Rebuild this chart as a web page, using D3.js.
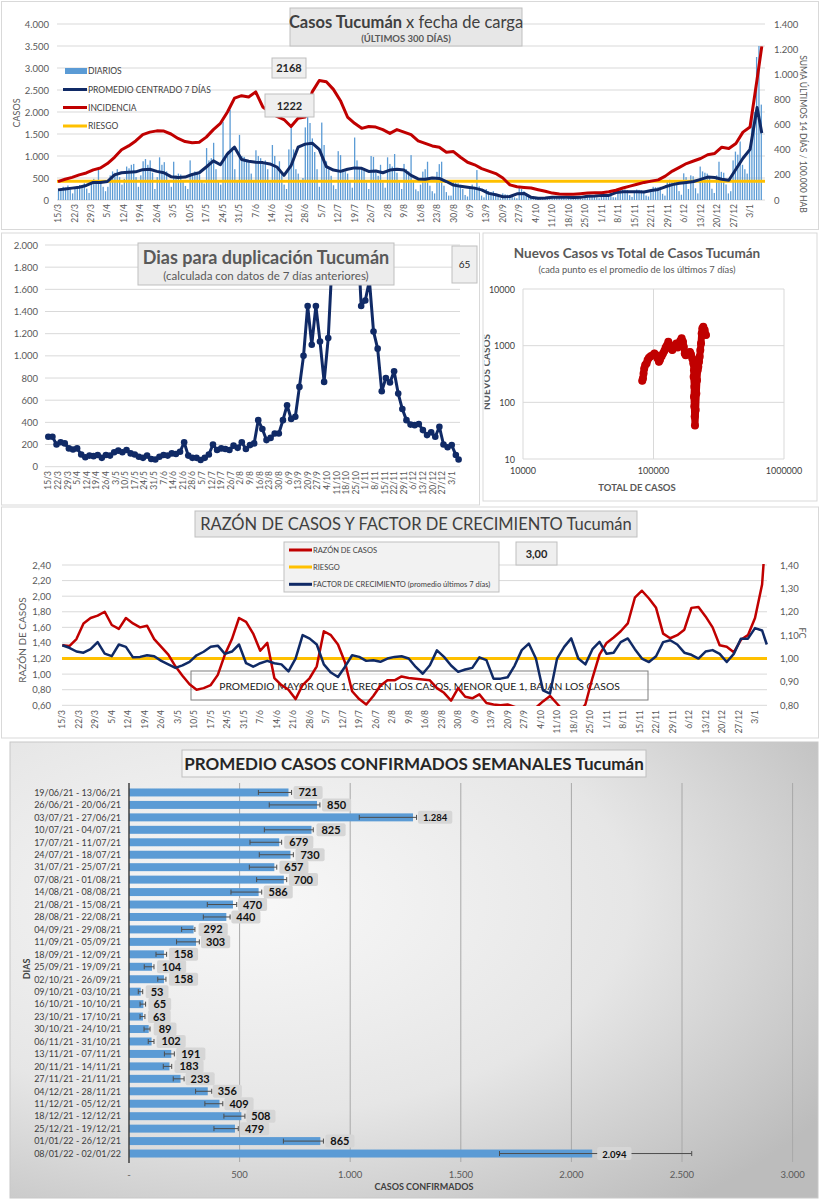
<!DOCTYPE html>
<html><head><meta charset="utf-8">
<script src="https://cdn.jsdelivr.net/npm/d3@7/dist/d3.min.js"></script>
<style>
body{margin:0;background:#fff;}
svg text{font-family:Lato,"Open Sans","Noto Sans",sans-serif;}
</style></head><body>
<svg id="chart" width="820" height="1200" xmlns="http://www.w3.org/2000/svg"></svg>
<script>
// ---------------- DATA ----------------
const weekLabels = ["15/3","22/3","29/3","5/4","12/4","19/4","26/4","3/5","10/5","17/5","24/5","31/5","7/6","14/6","21/6","28/6","5/7","12/7","19/7","26/7","2/8","9/8","16/8","23/8","30/8","6/9","13/9","20/9","27/9","4/10","11/10","18/10","25/10","1/11","8/11","15/11","22/11","29/11","6/12","13/12","20/12","27/12","3/1"];

// daily cases, 15/3/2021 .. 8/1/2022 (rows = weeks Mon..Sun)
const dailyCases = [
210,260,300,280,330,240,150,
250,320,340,300,380,260,160,
420,480,380,690,450,300,200,
300,560,650,620,700,520,350,
480,760,720,800,820,520,300,
560,880,930,800,900,620,250,
520,970,800,860,650,450,300,
870,560,600,580,420,320,250,
900,560,650,600,580,430,380,
1180,900,950,1300,700,450,350,
1780,1000,1100,2050,1200,700,450,
1480,1000,980,900,850,600,450,
1130,1000,950,820,900,700,400,
1250,1000,700,880,600,350,250,
1150,1700,1150,700,600,400,500,
1650,1900,1750,1400,1090,700,300,
1760,1250,880,700,550,335,250,
1110,1020,700,650,600,423,280,
1420,900,700,750,660,400,250,
1000,980,620,550,800,399,280,
970,820,760,1045,620,405,250,
820,700,650,1020,420,242,200,
350,645,700,870,325,200,150,
640,815,870,325,180,100,100,
450,400,380,350,250,114,80,
300,350,300,680,311,100,60,
250,200,180,200,146,70,40,
150,130,120,110,118,60,40,
300,250,200,150,116,50,20,
70,60,65,60,60,36,20,
60,90,80,85,75,45,25,
70,85,80,75,70,36,30,
90,110,120,105,110,58,40,
110,120,140,130,110,64,60,
220,250,230,240,227,110,70,
210,240,230,220,210,101,80,
230,300,290,290,300,141,100,
420,460,450,440,420,202,120,
606,520,250,560,540,267,150,
760,650,620,600,520,256,160,
560,870,640,620,353,150,200,
900,1100,1030,1330,800,700,600,
1200,1900,2000,3250,3500,2168];

// line series: one value every 3 days from 15/3 (day 0,3,...,297) + last day (8/1)
const promedio7 = [
230,250,270,290,330,400,400,420,570,620,
630,640,690,700,650,620,530,510,520,580,
620,750,890,800,1050,1200,920,880,860,850,
820,750,560,780,1200,1270,1290,1150,760,680,
650,700,730,720,650,660,620,680,700,680,
560,480,470,500,490,420,340,310,290,270,
230,150,120,75,80,140,150,60,40,45,
60,65,60,58,60,85,90,100,105,170,
190,190,185,180,215,240,300,350,380,400,
420,470,520,510,470,450,700,950,1150,2100,
1520];
const incidencia = [
146,165,180,200,215,240,255,290,340,400,
430,470,520,540,550,548,525,490,465,455,
460,500,560,610,700,810,830,820,860,740,
700,665,640,585,650,660,860,950,940,880,
790,660,610,570,585,580,560,530,560,540,
520,470,450,430,420,380,385,340,300,280,
250,230,210,175,120,105,100,95,82,70,
55,47,45,46,50,55,57,58,65,78,
95,110,125,140,150,160,190,230,260,290,
310,330,360,370,420,410,450,540,580,960,
1222];
const riesgoIncidencia = 150;

const diasDuplicacion = [
270,270,200,220,210,165,155,165,110,85,
100,95,105,80,105,100,130,145,130,150,
120,110,90,80,100,70,65,90,105,100,
120,115,135,220,100,80,80,60,80,110,
200,150,165,160,150,190,170,220,160,195,
210,420,340,240,260,300,300,420,555,430,
450,720,1000,1450,1100,1450,1130,765,1160,1900,
2400,3000,3500,3200,2800,2200,1450,1500,1680,1220,
1065,680,800,760,860,660,520,420,380,375,
385,330,285,310,270,360,200,175,195,105,
65];

const razonCasos = [
1.37,1.36,1.45,1.65,1.72,1.75,1.80,1.63,1.58,1.72,
1.65,1.60,1.62,1.45,1.35,1.25,1.10,0.98,0.87,0.80,
0.82,0.86,0.99,1.25,1.45,1.72,1.67,1.52,1.30,1.40,
0.95,0.86,0.80,0.68,0.86,0.95,1.10,1.55,1.50,1.38,
1.15,0.78,0.68,0.61,0.72,0.85,0.92,0.92,0.97,0.95,
0.94,0.93,0.92,0.82,0.76,0.66,0.82,0.71,0.69,0.74,
0.63,0.61,0.60,0.61,0.58,0.52,0.50,0.57,0.65,0.72,
0.62,0.52,0.45,0.50,0.61,0.95,1.25,1.40,1.47,1.55,
1.65,1.98,2.07,1.97,1.85,1.52,1.46,1.50,1.57,1.85,
1.86,1.74,1.60,1.37,1.35,1.28,1.44,1.50,1.72,2.15,
3.00];
const riesgoRazon = 1.20;
const factorCrecimiento = [
1.057,1.046,1.03,1.025,1.04,1.07,1.021,1.01,1.06,1.05,
1.005,1.007,1.014,1.01,0.99,0.975,0.96,0.971,0.986,1.014,
1.029,1.05,1.055,1.02,1.03,1.06,0.98,0.965,0.98,0.99,
0.98,0.975,0.945,1.0,1.10,1.085,1.06,0.975,0.94,0.921,
0.965,1.014,1.007,0.99,0.993,0.986,1.0,1.007,1.01,1.0,
0.964,0.935,0.971,1.035,1.007,0.97,0.943,0.953,0.96,1.005,
0.993,0.914,0.914,0.92,0.97,1.036,1.064,1.0,0.864,0.85,
1.0,1.05,1.086,1.0,0.975,1.04,1.071,1.02,1.025,1.07,
1.086,1.04,1.0,0.985,1.01,1.07,1.078,1.06,1.025,1.016,
1.0,1.03,1.036,1.02,0.985,1.02,1.085,1.085,1.13,1.12,
1.06];

// scatter: total cases vs new cases (7-day avg)
const scatterTotal = [82000,83000,83900,84900,86400,88500,90100,92300,95100,98600,
101700,105000,107500,110100,112000,115400,118200,121000,123900,126900,
129900,133000,136200,139400,142700,146100,149600,153200,156800,160500,
164300,168200,170600,173600,176600,179900,185600,190300,193600,198200,
201900,204300,203100,205500,204300,205500,206700,207900,210400,212900,
215400,218000,220500,223200,225800,228500,231200,233900,236700,240800,
246600,252400];
const scatterNuevos = [240,264,324,395,455,485,557,610,651,678,
730,678,596,520,557,651,730,805,930,1020,
1175,1020,895,836,930,1020,1097,930,1020,1224,
1346,1175,957,730,678,709,751,775,709,596,
485,370,282,188,125,84,56,39,73,143,
246,370,424,520,637,836,1097,1647,2010,2160,
1886,1540];

// weekly averages
const semanas = ["19/06/21 - 13/06/21","26/06/21 - 20/06/21","03/07/21 - 27/06/21","10/07/21 - 04/07/21","17/07/21 - 11/07/21","24/07/21 - 18/07/21","31/07/21 - 25/07/21","07/08/21 - 01/08/21","14/08/21 - 08/08/21","21/08/21 - 15/08/21","28/08/21 - 22/08/21","04/09/21 - 29/08/21","11/09/21 - 05/09/21","18/09/21 - 12/09/21","25/09/21 - 19/09/21","02/10/21 - 26/09/21","09/10/21 - 03/10/21","16/10/21 - 10/10/21","23/10/21 - 17/10/21","30/10/21 - 24/10/21","06/11/21 - 31/10/21","13/11/21 - 07/11/21","20/11/21 - 14/11/21","27/11/21 - 21/11/21","04/12/21 - 28/11/21","11/12/21 - 05/12/21","18/12/21 - 12/12/21","25/12/21 - 19/12/21","01/01/22 - 26/12/21","08/01/22 - 02/01/22"];
const promedioSemanal = [721,850,1284,825,679,730,657,700,586,470,440,292,303,158,104,158,53,65,63,89,102,191,183,233,356,409,508,479,865,2094];
const errorBajo = [585,634,1041,612,547,589,544,577,461,354,336,238,215,122,69,130,42,50,50,68,87,160,155,200,301,343,429,384,698,1675];
const errorAlto = [735,863,1300,833,690,743,668,713,600,487,457,298,318,170,113,167,62,75,72,95,113,205,193,249,374,424,524,494,879,2544];

// ---------------- DRAW ----------------
const NAVY="#102a66", RED="#c00000", YEL="#ffc000", BLUE="#5b9bd5", GRID="#d9d9d9", AX="#595959";
const loc=d3.formatLocale({decimal:",",thousands:".",grouping:[3],currency:["$",""]});
const fInt=loc.format(",.0f"), f2=loc.format(".2f");
const sampleDay=i=>Math.min(i*3,299);

const svg=d3.select("#chart");
const defs=svg.append("defs");
svg.append("rect").attr("width",820).attr("height",1200).attr("fill","#fff");

function T(g,x,y,s,o={}){
  const t=g.append("text").text(s)
    .attr("font-size",o.size||10).attr("fill",o.fill||AX).attr("text-anchor",o.anchor||"start");
  if(o.weight) t.attr("font-weight",o.weight);
  if(o.rot!==undefined) t.attr("transform",`translate(${x},${y}) rotate(${o.rot})`);
  else t.attr("x",x).attr("y",y);
  return t;
}
function R(g,x,y,w,h,fill,stroke,rx){
  return g.append("rect").attr("x",x).attr("y",y).attr("width",w).attr("height",h)
    .attr("fill",fill).attr("stroke",stroke||"none").attr("rx",rx||0);
}
function clip(id,x,y,w,h){
  defs.append("clipPath").attr("id",id).append("rect").attr("x",x).attr("y",y).attr("width",w).attr("height",h);
  return `url(#${id})`;
}
function hline(g,x1,x2,y,stroke,w){
  return g.append("line").attr("x1",x1).attr("x2",x2).attr("y1",y).attr("y2",y).attr("stroke",stroke).attr("stroke-width",w||1);
}
function xLabels(g,scale,y,size){
  weekLabels.forEach((l,i)=>T(g,scale(i*7)+size*0.36,y,l,{size,anchor:"end",rot:-90}));
}

// ===== Panel 1: Casos Tucumán =====
const p1=svg.append("g");
R(p1,1.5,1.5,817,228,"#fff","#d9d9d9");
const xT=d3.scaleLinear().domain([0,299]).range([58,761.8]);
const xTB=d3.scaleBand().domain(d3.range(dailyCases.length)).range([56.8,763]).padding(0.45);
const yT=d3.scaleLinear().domain([0,4000]).range([200,24]);
const yTR=d3.scaleLinear().domain([0,1400]).range([200,24]);
d3.range(0,4001,500).forEach(v=>{ hline(p1,57,765,yT(v),GRID); T(p1,49,yT(v)+3.5,fInt(v),{size:9.5,anchor:"end"}); });
d3.range(0,1401,200).forEach(v=>T(p1,774,yTR(v)+3.5,fInt(v),{size:9.5}));
p1.append("g").selectAll("rect").data(dailyCases).join("rect")
  .attr("x",(d,i)=>xTB(i)).attr("width",xTB.bandwidth())
  .attr("y",d=>yT(d)).attr("height",d=>yT(0)-yT(d)).attr("fill",BLUE);
hline(p1,57,765,yTR(riesgoIncidencia),YEL,3);
const lineT=d3.line().x((d,i)=>xT(sampleDay(i)));
p1.append("path").attr("d",lineT.y(d=>yT(d))(promedio7)).attr("fill","none").attr("stroke",NAVY).attr("stroke-width",3).attr("stroke-linejoin","round");
p1.append("path").attr("d",lineT.y(d=>yTR(d))(incidencia)).attr("fill","none").attr("stroke",RED).attr("stroke-width",3).attr("stroke-linejoin","round");
xLabels(p1,xT,204,8.5);
T(p1,20,113,"CASOS",{size:9,anchor:"middle",rot:-90});
T(p1,800,134,"SUMA  ÚLTIMOS 14 DÍAS / 100.000 HAB",{size:8.6,anchor:"middle",rot:90});
// legend
R(p1,65,68,22,6,BLUE);
T(p1,88,74,"DIARIOS",{size:8.5,fill:"#404040"});
[["PROMEDIO CENTRADO 7 DÍAS",NAVY,89.5],["INCIDENCIA",RED,107.5],["RIESGO",YEL,126]].forEach(([s,c,y])=>{
  hline(p1,63,87,y,c,3); T(p1,88,y+3,s,{size:8.5,fill:"#404040"});
});
// title box
R(p1,290,8,232,38,"#e7e7e7","#bfbfbf");
const tt=p1.append("text").attr("x",406).attr("y",28).attr("text-anchor","middle").attr("font-size",16.5).attr("fill","#404040");
tt.append("tspan").attr("font-weight","bold").text("Casos  Tucumán ");
tt.append("tspan").text(" x fecha de carga");
T(p1,406,42,"(ÚLTIMOS 300 DÍAS)",{size:9.5,anchor:"middle",weight:"bold",fill:"#595959"});
R(p1,272,58,34,20,"#efefef","#bfbfbf");
T(p1,289,72,String(dailyCases[dailyCases.length-1]),{size:11,anchor:"middle",weight:"bold",fill:"#262626"});
R(p1,265,94,49,23,"#efefef","#bfbfbf");
T(p1,289.5,109.5,String(incidencia[incidencia.length-1]),{size:11,anchor:"middle",weight:"bold",fill:"#262626"});

// ===== Panel 2: Dias para duplicación =====
const p2=svg.append("g");
R(p2,1.5,233,478,272,"#fff","#d9d9d9");
const xD=d3.scaleLinear().domain([0,299]).range([48.3,458.6]);
const yD=d3.scaleLinear().domain([0,2000]).range([466.7,245]);
d3.range(0,2001,200).forEach(v=>{ hline(p2,45,460,yD(v),GRID); T(p2,38,yD(v)+3.5,fInt(v),{size:9.5,anchor:"end"}); });
const gD=p2.append("g").attr("clip-path",clip("cD",40,244.5,430,230));
gD.append("path").attr("d",d3.line().x((d,i)=>xD(sampleDay(i))).y(d=>yD(d))(diasDuplicacion))
  .attr("fill","none").attr("stroke",NAVY).attr("stroke-width",3).attr("stroke-linejoin","round");
gD.selectAll("circle").data(diasDuplicacion).join("circle")
  .attr("cx",(d,i)=>xD(sampleDay(i))).attr("cy",d=>yD(d)).attr("r",3.3).attr("fill",NAVY);
xLabels(p2,xD,471,8.5);
R(p2,138,243,256,42,"#ececec","#bfbfbf");
T(p2,266,264,"Dias para duplicación Tucumán",{size:18,anchor:"middle",weight:"bold",fill:"#595959"});
T(p2,266,279.5,"(calculada con datos de 7 días anteriores)",{size:11.5,anchor:"middle",fill:"#595959"});
R(p2,452,246,25,37,"#efefef","#bfbfbf");
T(p2,464.5,268,String(diasDuplicacion[diasDuplicacion.length-1]),{size:10,anchor:"middle",fill:"#262626"});

// ===== Panel 3: scatter =====
const p3=svg.append("g");
R(p3,483,233,334,268,"#fff","#d9d9d9");
const xS=d3.scaleLog().domain([1e4,1e6]).range([523,784]);
const yS=d3.scaleLog().domain([10,1e4]).range([459,289]);
[10,100,1000,10000].forEach(v=>{ hline(p3,523,784,yS(v),GRID); T(p3,515,yS(v)+3.5,String(v),{size:9,anchor:"end",fill:"#404040"}); });
[1e4,1e5,1e6].forEach(v=>{ p3.append("line").attr("x1",xS(v)).attr("x2",xS(v)).attr("y1",289).attr("y2",459).attr("stroke",GRID); T(p3,xS(v),474,String(v),{size:9,anchor:"middle",fill:"#404040"}); });
const pts=scatterTotal.map((t,i)=>[xS(t),yS(scatterNuevos[i])]);
p3.append("path").attr("d",d3.line()(pts)).attr("fill","none").attr("stroke",RED).attr("stroke-width",7).attr("stroke-linejoin","round").attr("stroke-linecap","round");
p3.selectAll("circle").data(pts).join("circle").attr("cx",d=>d[0]).attr("cy",d=>d[1]).attr("r",4).attr("fill",RED);
T(p3,637,258,"Nuevos Casos vs Total de Casos Tucumán",{size:13.5,anchor:"middle",weight:"bold",fill:"#595959"});
T(p3,637,273,"(cada punto es el promedio de los últimos 7 días)",{size:9.3,anchor:"middle",fill:"#595959"});
T(p3,637,491,"TOTAL DE CASOS",{size:9.5,anchor:"middle",weight:"bold",fill:"#595959"});
const gY=p3.append("g").attr("clip-path",clip("cS",484.5,234,300,260));
T(gY,490,372,"NUEVOS CASOS",{size:10,anchor:"middle",weight:"bold",fill:"#595959",rot:-90});

// ===== Panel 4: Razón =====
const p4=svg.append("g");
R(p4,1.5,507,817,231,"#fff","#d9d9d9");
const xR=d3.scaleLinear().domain([0,299]).range([62.3,766.8]);
const yRL=d3.scaleLinear().domain([0.6,2.4]).range([705.3,565]);
const yRR=d3.scaleLinear().domain([0.8,1.4]).range([705.3,565]);
d3.range(0,10).map(i=>0.6+i*0.2).forEach(v=>{ hline(p4,62,767,yRL(v),GRID); T(p4,51,yRL(v)+3.5,f2(v),{size:9.5,anchor:"end"}); });
d3.range(0,7).map(i=>0.8+i*0.1).forEach(v=>T(p4,780,yRR(v)+3.5,f2(v),{size:9.5}));
R(p4,191,671,457,29,"none","#7f7f7f");
T(p4,419.5,690,"PROMEDIO MAYOR QUE 1, CRECEN LOS CASOS, MENOR QUE 1, BAJAN LOS CASOS",{size:10.3,anchor:"middle",fill:"#1a1a1a"});
hline(p4,62,767,yRL(riesgoRazon),YEL,3);
const gR=p4.append("g").attr("clip-path",clip("cR",55,564,720,142));
const lineR=d3.line().x((d,i)=>xR(sampleDay(i)));
gR.append("path").attr("d",lineR.y(d=>yRL(d))(razonCasos)).attr("fill","none").attr("stroke",RED).attr("stroke-width",2.5).attr("stroke-linejoin","round");
gR.append("path").attr("d",lineR.y(d=>yRR(d))(factorCrecimiento)).attr("fill","none").attr("stroke",NAVY).attr("stroke-width",2.5).attr("stroke-linejoin","round");
xLabels(p4,xR,710,8.5);
T(p4,26,640,"RAZÓN DE CASOS",{size:10,anchor:"middle",rot:-90});
T(p4,799,633,"FC",{size:9,anchor:"middle",rot:90});
R(p4,195,511,442,26,"#e7e7e7","#bfbfbf");
T(p4,416,530,"RAZÓN DE CASOS Y FACTOR DE CRECIMIENTO Tucumán",{size:16.5,anchor:"middle",fill:"#404040"});
R(p4,284,542,215,50,"#f2f2f2","#bfbfbf");
[["RAZÓN DE CASOS",RED,550],["RIESGO",YEL,567],["FACTOR DE CRECIMIENTO (promedio últimos 7 días)",NAVY,584.3]].forEach(([s,c,y])=>{
  hline(p4,289,312,y,c,3); T(p4,313,y+2.7,s,{size:7.5,fill:"#404040"});
});
R(p4,516,542,41,23,"#efefef","#bfbfbf");
T(p4,536.5,558,f2(razonCasos[razonCasos.length-1]),{size:11,anchor:"middle",weight:"bold",fill:"#262626"});

// ===== Panel 5: weekly averages =====
const p5=svg.append("g");
const grad=defs.append("radialGradient").attr("id","bg5").attr("cx","0.3").attr("cy","0.35").attr("r","0.85");
grad.append("stop").attr("offset","0").attr("stop-color","#f8f8f8");
grad.append("stop").attr("offset","0.55").attr("stop-color","#e6e6e6");
grad.append("stop").attr("offset","1").attr("stop-color","#bcbcbc");
R(p5,10,742,808,456,"url(#bg5)","#c8c8c8");
const xB=d3.scaleLinear().domain([0,3000]).range([129,792.6]);
const yB=d3.scaleBand().domain(semanas).range([784,1162]).padding(0.36);
d3.range(500,3001,500).forEach(v=>p5.append("line").attr("x1",xB(v)).attr("x2",xB(v)).attr("y1",783).attr("y2",1162).attr("stroke","#a8a8a8"));
[0,500,1000,1500,2000,2500,3000].forEach(v=>T(p5,xB(v),1178,v===0?"-":fInt(v),{size:9.5,anchor:"middle"}));
p5.selectAll("rect.b").data(promedioSemanal).join("rect").attr("class","b")
  .attr("x",xB(0)).attr("y",(d,i)=>yB(semanas[i])).attr("width",d=>xB(d)-xB(0)).attr("height",yB.bandwidth()).attr("fill",BLUE);
p5.append("line").attr("x1",129).attr("x2",129).attr("y1",783).attr("y2",1163).attr("stroke","#404040").attr("stroke-width",1.5);
semanas.forEach((s,i)=>{
  const cy=yB(s)+yB.bandwidth()/2;
  const x1=xB(errorBajo[i]), x2=xB(errorAlto[i]);
  hline(p5,x1,x2,cy,"#4d4d4d",1);
  [x1,x2].forEach(x=>p5.append("line").attr("x1",x).attr("x2",x).attr("y1",cy-2.5).attr("y2",cy+2.5).attr("stroke","#4d4d4d"));
  T(p5,121,cy+3.3,s,{size:9,anchor:"end",fill:"#404040"});
});
semanas.forEach((s,i)=>{
  const cy=yB(s)+yB.bandwidth()/2;
  const v=promedioSemanal[i];
  const bx=xB(v)+5;
  const g=p5.append("g");
  const r=R(g,bx,cy-6.5,10,13,"#d6d6d6","none",2);
  const t=T(g,bx+5,cy+4,fInt(v),{size:v>=1000?9.5:11,weight:"bold",fill:"#111"});
  const w=t.node().getComputedTextLength();
  r.attr("width",w+10);
});
R(p5,182,750,464,27,"#f4f4f4","#bfbfbf");
T(p5,414,770,"PROMEDIO CASOS CONFIRMADOS SEMANALES Tucumán",{size:17,anchor:"middle",weight:"bold",fill:"#262626"});
T(p5,30,969,"DIAS",{size:9,anchor:"middle",weight:"bold",rot:-90,fill:"#404040"});
T(p5,424,1190,"CASOS CONFIRMADOS",{size:9,anchor:"middle",weight:"bold",fill:"#404040"});
</script></body></html>
